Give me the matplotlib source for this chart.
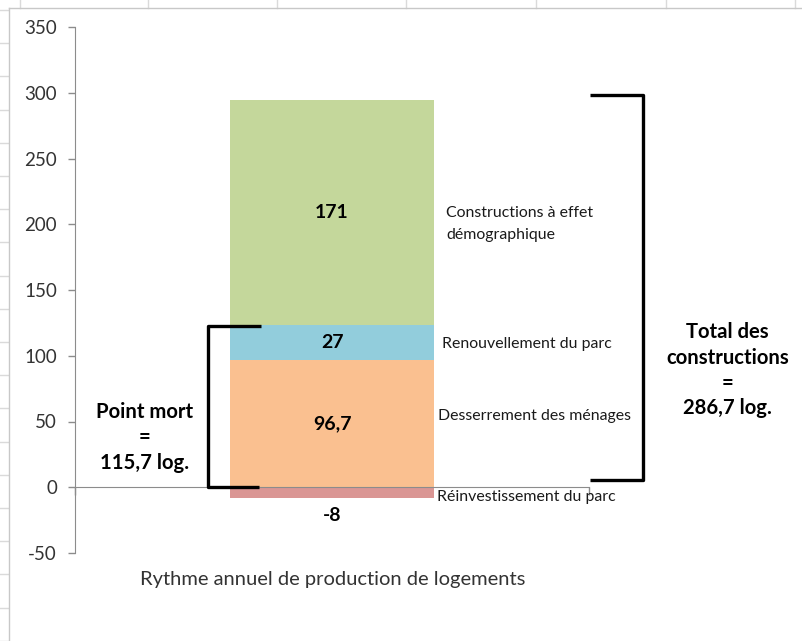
import numpy as np
import matplotlib.pyplot as plt
from matplotlib.lines import Line2D

plt.rcParams["font.family"] = ["Lato", "DejaVu Sans"]

# Data
segments = ["Réinvestissement du parc", "Desserrement des ménages",
            "Renouvellement du parc", "Constructions à effet\ndémographique"]
values = [-8, 96.7, 27, 171]
colors = ["#DA9694", "#FAC090", "#92CDDC", "#C4D79B"]
category = "Rythme annuel de production de logements"
yticks = [-50, 0, 50, 100, 150, 200, 250, 300, 350]


def fr(v):
    s = f"{v:.1f}".rstrip("0").rstrip(".")
    return s.replace(".", ",")


W, H = 803, 641
fig = plt.figure(figsize=(W / 100, H / 100), dpi=100)

# spreadsheet grid behind the chart object
grid_c = "#DADADA"
for x in [20, 148, 277, 406, 536, 666, 795]:
    fig.add_artist(Line2D([x / W, x / W], [1, 1 - 8 / H], color=grid_c, lw=1))
for y in np.arange(10, H, 33.2):
    fig.add_artist(Line2D([0, 8 / W], [1 - y / H, 1 - y / H], color=grid_c, lw=1))
fig.add_artist(Line2D([9.5 / W, 9.5 / W], [0, 1 - 8 / H], color="#C8C8C8", lw=1))
fig.add_artist(Line2D([9.5 / W, 1], [1 - 8 / H, 1 - 8 / H], color="#C8C8C8", lw=1))

ax = fig.add_axes([75 / W, 88 / H, 514 / W, 526 / H])
ax.set_xlim(0, 1)
ax.set_ylim(-50, 350)

# stacked bar: negative part below zero, positives stacked upward
bottom = 0
x0, bw = 0.5, 0.395
tops = []
for val, col in zip(values, colors):
    if val < 0:
        ax.bar(x0, val, bw, bottom=0, color=col, zorder=2)
        tops.append((val, 0))
    else:
        ax.bar(x0, val, bw, bottom=bottom, color=col, zorder=2)
        tops.append((bottom, bottom + val))
        bottom += val

# value labels inside the bar
for val, (lo, hi) in zip(values, tops):
    if val < 0:
        ax.annotate(fr(val), (x0, lo), xytext=(0, -7), textcoords="offset points",
                    ha="center", va="top", fontsize=14, fontweight="bold", color="black")
    else:
        ax.text(x0, (lo + hi) / 2, fr(val), ha="center", va="center",
                fontsize=14, fontweight="bold", color="black", zorder=3)

# segment names to the right of the bar
name_pos = [(0.704, -7.5), (0.706, 54), (0.714, 109), (0.722, 200)]
for name, (tx, ty) in zip(segments, name_pos):
    ax.text(tx, ty, name, ha="left", va="center", fontsize=11.4, color="#1A1A1A",
            linespacing=1.75)

# brackets
total = sum(values)
point_mort = sum(values[:3])
top_blue = tops[2][1]
top_all = tops[3][1]
kw = dict(color="black", lw=2.4, clip_on=False, solid_capstyle="butt", zorder=4)
ax.plot([0.362, 0.258, 0.258, 0.358], [top_blue - 1, top_blue - 1, 0.5, 0.5], **kw)
ax.plot([1.002, 1.105, 1.105, 1.002], [top_all + 3.5, top_all + 3.5, 5.5, 5.5], **kw)

ax.text(0.136, 38, f"Point mort\n=\n{fr(point_mort)} log.", ha="center", va="center",
        fontsize=14.6, fontweight="bold", color="black", linespacing=1.33)
ax.text(1.27, 89, f"Total des\nconstructions\n=\n{fr(total)} log.", ha="center",
        va="center", fontsize=14.6, fontweight="bold", color="black", linespacing=1.33,
        clip_on=False)

ax.text(0.502, -0.051, category, transform=ax.transAxes, ha="center", va="center",
        fontsize=14.5, color="#333333")

# axes styling
axis_c = "#8C8C8C"
for s in ["top", "right"]:
    ax.spines[s].set_visible(False)
ax.spines["left"].set_color(axis_c)
ax.spines["bottom"].set_position(("data", 0))
ax.spines["bottom"].set_color(axis_c)
ax.set_yticks(yticks)
ax.set_yticklabels([str(t) for t in yticks])
ax.tick_params(axis="y", colors=axis_c, labelcolor="#333333", labelsize=13.5,
               length=5, width=1, pad=8)
ax.set_xticks([0, 1])
ax.set_xticklabels(["", ""])
ax.tick_params(axis="x", colors=axis_c, length=6, width=1)

fig.savefig("out.png", dpi=100)
